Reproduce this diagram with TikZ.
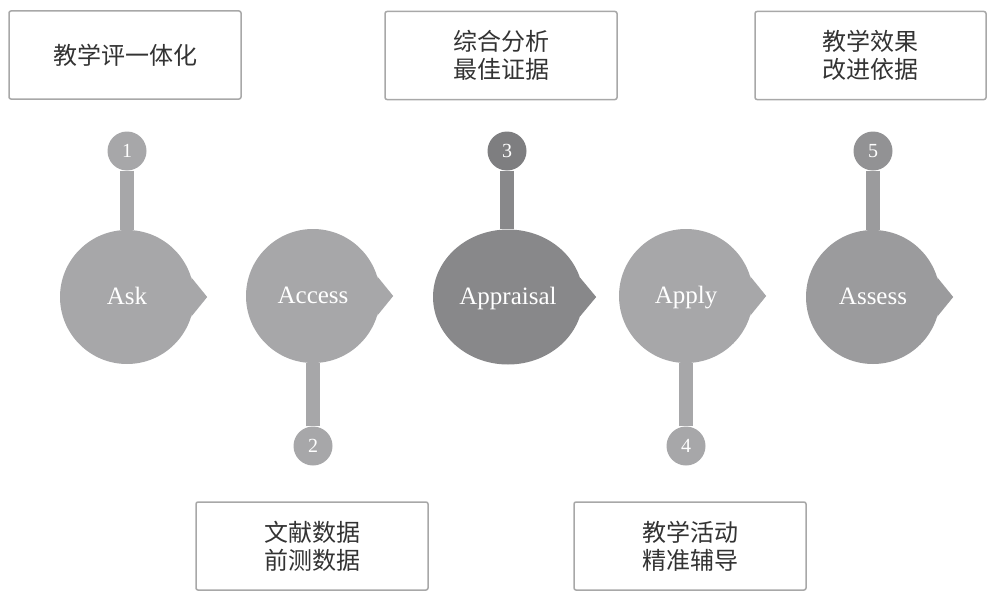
\documentclass[tikz,border=0pt]{standalone}
\usepackage{fontspec}
\setmainfont{Liberation Serif}
\newfontfamily\cjk{Noto Sans CJK SC}
\usetikzlibrary{calc,shapes.geometric}
\definecolor{lightg}{HTML}{A7A7A9}
\definecolor{darkg}{HTML}{88888A}
\definecolor{darkerg}{HTML}{7E7E80}
\definecolor{midg}{HTML}{9B9B9D}
\definecolor{smallfive}{HTML}{929294}
\definecolor{boxline}{HTML}{A8A8A8}
\definecolor{boxtext}{HTML}{333333}
\tikzset{
  bigc/.style={circle, minimum size=134pt, inner sep=0pt, text=white, text height=16pt, text depth=1pt, font=\fontsize{25}{28}\selectfont},
  smallc/.style={circle, minimum size=39pt, inner sep=0pt, text=white, font=\fontsize{20}{24}\selectfont},
  stem/.style={line width=14pt},
  infobox/.style={draw=boxline, line width=1.5pt, rounded corners=2pt, fill=white,
    minimum width=232pt, minimum height=88pt, align=center, text=boxtext,
    font=\cjk\fontsize{24}{28}\selectfont}
}
\begin{document}
\begin{tikzpicture}[x=1pt,y=-1pt]
\useasboundingbox (0,0) rectangle (987,594);
% boxes
\node[infobox] (b1) at (125,55) {教学评一体化};
\node[infobox] (b3) at (501,55.5) {综合分析\\最佳证据};
\node[infobox, minimum width=231pt] (b5) at (870.5,55.5) {教学效果\\改进依据};
\node[infobox] (b2) at (312,546) {文献数据\\前测数据};
\node[infobox] (b4) at (690,546) {教学活动\\精准辅导};
% big circles
\node[bigc, fill=lightg] (ask) at (127,297) {Ask};
\node[bigc, fill=lightg] (access) at (313,296) {Access};
\node[bigc, ellipse, minimum width=150pt, minimum height=135pt, fill=darkg] (appr) at (508,297) {Appraisal};
\node[bigc, fill=lightg] (apply) at (686,296) {Apply};
\node[bigc, fill=midg] (assess) at (873,297) {Assess};
% pointers
\fill[lightg] (ask.17) -- ($(ask.east)+(13,0)$) -- (ask.-17) -- cycle;
\fill[lightg] (access.17) -- ($(access.east)+(13,0)$) -- (access.-17) -- cycle;
\fill[darkg] (appr.15) -- ($(appr.east)+(13,0)$) -- (appr.-15) -- cycle;
\fill[lightg] (apply.17) -- ($(apply.east)+(13,0)$) -- (apply.-17) -- cycle;
\fill[midg] (assess.17) -- ($(assess.east)+(13,0)$) -- (assess.-17) -- cycle;
% small circles
\node[smallc, fill=lightg] (n1) at (127,151) {1};
\node[smallc, fill=lightg] (n2) at (313,446) {2};
\node[smallc, fill=darkerg] (n3) at (507,151) {3};
\node[smallc, fill=lightg] (n4) at (686,446) {4};
\node[smallc, fill=smallfive] (n5) at (873,151) {5};
% stems
\draw[stem, lightg] (n1.south) -- (n1.south |- ask.north);
\draw[stem, lightg] (n2.north) -- (n2.north |- access.south);
\draw[stem, darkg] (n3.south) -- (n3.south |- appr.north);
\draw[stem, lightg] (n4.north) -- (n4.north |- apply.south);
\draw[stem, midg] (n5.south) -- (n5.south |- assess.north);
\end{tikzpicture}
\end{document}
